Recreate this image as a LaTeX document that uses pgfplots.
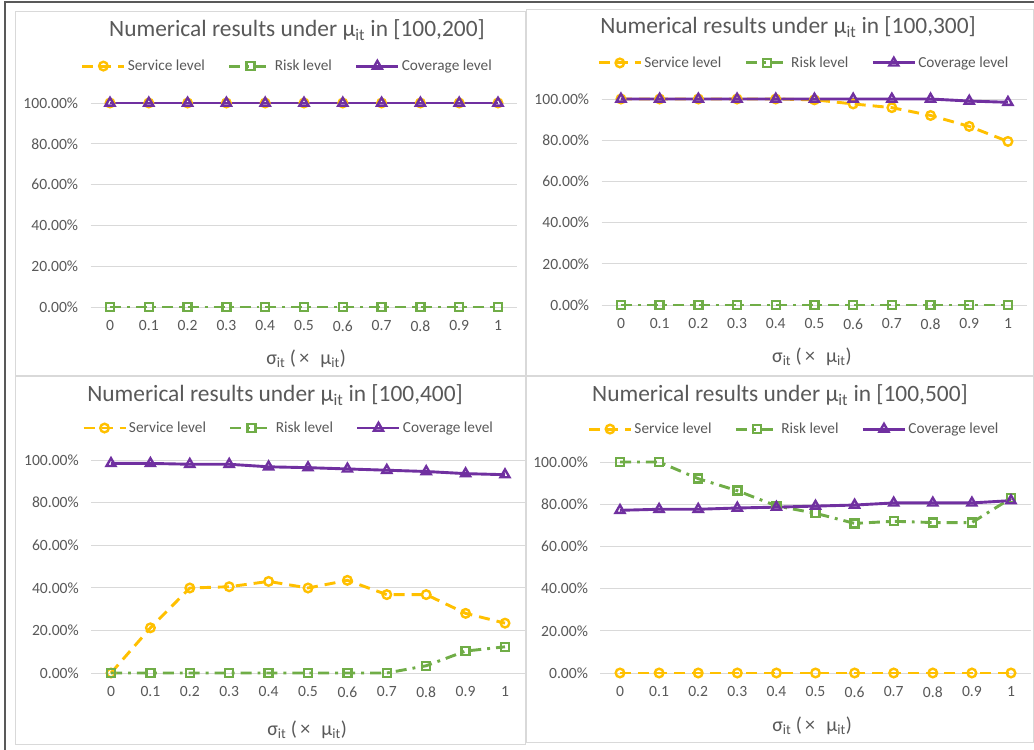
\documentclass[border=0pt]{standalone}
\usepackage{pgfplots}
\pgfplotsset{compat=1.18}
\usepackage{fontspec}
\setmainfont{Carlito}
\definecolor{svc}{HTML}{FFC000}
\definecolor{risk}{HTML}{70AD47}
\definecolor{cov}{HTML}{7030A0}
\definecolor{txt}{HTML}{595959}
\definecolor{grd}{HTML}{D9D9D9}
\pgfplotsset{
  panel/.style={
    scale only axis, anchor=south west, clip=false,
    xmin=-0.5, xmax=10.5, ymin=0, ymax=100,
    xtick={0,1,2,3,4,5,6,7,8,9,10},
    xticklabels={0,0.1,0.2,0.3,0.4,0.5,0.6,0.7,0.8,0.9,1},
    ytick={0,20,40,60,80,100},
    yticklabels={0.00\%,20.00\%,40.00\%,60.00\%,80.00\%,100.00\%},
    ymajorgrids, grid style={grd, line width=0.9pt},
    axis line style={draw=none}, tick style={draw=none},
    ticklabel style={font=\fontsize{15.6}{18}\selectfont, text=txt},
    xticklabel style={yshift=-10pt},
    yticklabel style={xshift=-9pt},
    title style={font=\fontsize{23.4}{26}\selectfont, text=txt, anchor=center, yshift=-8pt},
    xlabel style={font=\fontsize{20}{22}\selectfont, text=txt, anchor=center, yshift=-2pt},
    xlabel={σ\textsubscript{it} (\,×\,\, μ\textsubscript{it})},
    legend columns=3,
    legend style={draw=none, fill=none, anchor=center, font=\fontsize{15.3}{17}\selectfont, text=txt,
      /tikz/every even column/.append style={column sep=21pt}},
    legend image code/.code={\draw[mark repeat=2,mark phase=2] plot coordinates {(0pt,0pt) (21pt,0pt) (42pt,0pt)};},
  },
  svcst/.style={color=svc, line width=2.9pt, dash pattern=on 11pt off 7pt, mark=o, mark size=4.3pt, mark options={solid, fill=white, line width=2.4pt}},
  riskst/.style={color=risk, line width=2.9pt, dash pattern=on 11pt off 6pt on 2.9pt off 6pt, mark=square, mark size=4pt, mark options={solid, fill=white, line width=2.4pt}},
  covst/.style={color=cov, line width=2.9pt, mark=triangle, mark size=5.2pt, mark options={solid, fill=white, line width=2.4pt}},
}
\begin{document}
\begin{tikzpicture}
\useasboundingbox (0pt,0pt) rectangle (1034pt,750pt);
\fill[white] (0pt,0pt) rectangle (1034pt,750pt);
% panel borders
\draw[grd, line width=1pt] (15pt,374pt) rectangle (525pt,738pt);
\draw[grd, line width=1pt] (526pt,374pt) rectangle (1033pt,740pt);
\draw[grd, line width=1pt] (15pt,5pt) rectangle (525pt,373pt);
\draw[grd, line width=1pt] (526pt,7pt) rectangle (1033pt,373pt);
\draw[black!65, line width=1.6pt] (5pt,0pt) -- (5pt,748pt) -- (1034pt,748pt);

% Panel 1
\begin{axis}[panel, at={(90.6pt,443pt)}, width=426.8pt, height=204pt,
  title={Numerical results under μ\textsubscript{it} in [100,200]},
  title style={at={(0.4836,1.368)}},
  xlabel style={at={(0.505,-0.245)}},
  legend style={at={(0.461,1.181)}}]
\addplot[svcst] coordinates {(0,100)(1,100)(2,100)(3,100)(4,100)(5,100)(6,100)(7,100)(8,100)(9,100)(10,100)};
\addlegendentry{Service level}
\addplot[riskst] coordinates {(0,0)(1,0)(2,0)(3,0)(4,0)(5,0)(6,0)(7,0)(8,0)(9,0)(10,0)};
\addlegendentry{Risk level}
\addplot[covst] coordinates {(0,100)(1,100)(2,100)(3,100)(4,100)(5,100)(6,100)(7,100)(8,100)(9,100)(10,100)};
\addlegendentry{Coverage level}
\end{axis}

% Panel 2
\begin{axis}[panel, at={(601.6pt,445pt)}, width=425.7pt, height=206pt,
  title={Numerical results under μ\textsubscript{it} in [100,300]},
  title style={at={(0.438,1.359)}},
  xlabel style={at={(0.494,-0.243)}},
  legend style={at={(0.475,1.175)}}]
\addplot[svcst] coordinates {(0,100)(1,100)(2,100)(3,100)(4,100)(5,99.6)(6,97.6)(7,95.8)(8,92.0)(9,86.7)(10,79.4)};
\addlegendentry{Service level}
\addplot[riskst] coordinates {(0,0)(1,0)(2,0)(3,0)(4,0)(5,0)(6,0)(7,0)(8,0)(9,0)(10,0)};
\addlegendentry{Risk level}
\addplot[covst] coordinates {(0,100)(1,100)(2,100)(3,100)(4,100)(5,100)(6,100)(7,100)(8,100)(9,99.0)(10,98.4)};
\addlegendentry{Coverage level}
\end{axis}

% Panel 3
\begin{axis}[panel, at={(91.3pt,77pt)}, width=433.4pt, height=213pt,
  title={Numerical results under μ\textsubscript{it} in [100,400]},
  title style={at={(0.424,1.315)}},
  xlabel style={at={(0.498,-0.258)}},
  legend style={at={(0.455,1.150)}}]
\addplot[svcst] coordinates {(0,0)(1,21.2)(2,39.9)(3,40.5)(4,43.0)(5,39.9)(6,43.5)(7,36.8)(8,36.8)(9,28.0)(10,23.4)};
\addlegendentry{Service level}
\addplot[riskst] coordinates {(0,0)(1,0)(2,0)(3,0)(4,0)(5,0)(6,0)(7,0)(8,3.4)(9,10.3)(10,12.3)};
\addlegendentry{Risk level}
\addplot[covst] coordinates {(0,98.4)(1,98.4)(2,98.0)(3,98.0)(4,96.8)(5,96.4)(6,95.8)(7,95.2)(8,94.6)(9,93.6)(10,93.1)};
\addlegendentry{Coverage level}
\end{axis}

% Panel 4
\begin{axis}[panel, at={(600.45pt,77pt)}, width=430.1pt, height=211pt,
  title={Numerical results under μ\textsubscript{it} in [100,500]},
  title style={at={(0.4175,1.327)}},
  xlabel style={at={(0.492,-0.242)}},
  legend style={at={(0.45,1.156)}}]
\addplot[svcst] coordinates {(0,0)(1,0)(2,0)(3,0)(4,0)(5,0)(6,0)(7,0)(8,0)(9,0)(10,0)};
\addlegendentry{Service level}
\addplot[riskst] coordinates {(0,100)(1,100)(2,92.1)(3,86.4)(4,79.2)(5,75.7)(6,70.9)(7,71.9)(8,71.3)(9,71.3)(10,82.8)};
\addlegendentry{Risk level}
\addplot[covst] coordinates {(0,77.1)(1,77.6)(2,77.6)(3,78.2)(4,78.6)(5,79.1)(6,79.6)(7,80.6)(8,80.6)(9,80.6)(10,81.7)};
\addlegendentry{Coverage level}
\end{axis}
\end{tikzpicture}
\end{document}
